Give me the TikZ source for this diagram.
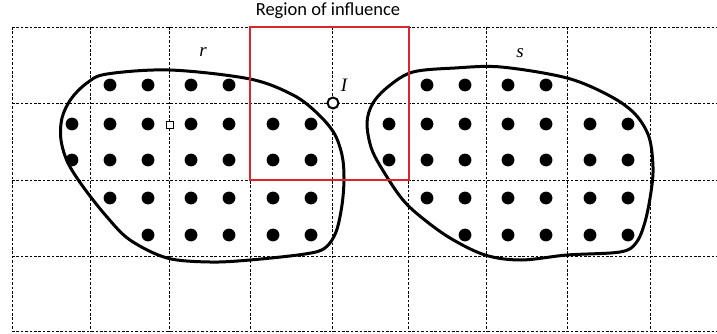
\documentclass[tikz,border=0pt]{standalone}
\usepackage{fontspec}
\newfontfamily\titlefont{Carlito}
\newfontfamily\mathlikefont{Liberation Serif}
\begin{document}
\begin{tikzpicture}[x=1pt,y=-1pt,
  gridline/.style={line width=0.8pt, dash pattern=on 2.6pt off 1.8pt, black},
  blob/.style={line width=3pt, black, line join=round},
  influence/.style={line width=2.8pt, color={rgb,255:red,218;green,38;blue,42}},
  dot/.style={black},
  setlabel/.style={font=\mathlikefont\itshape\fontsize{19}{19}\selectfont, inner sep=0pt}]
\useasboundingbox (0,0) rectangle (717,334);
\fill[white] (0,0) rectangle (717,334);

% dashed grid
\foreach \gx in {12,90,169,250,332,408,486,567,650}
  \draw[gridline] (\gx,27) -- (\gx,331);
\foreach \gy in {27,103,180,256,331}
  \draw[gridline] (12,\gy) -- (717,\gy);

% outline of region r
\draw[blob] plot[smooth cycle, tension=0.55] coordinates {
  (107,74) (170,70) (250,79) (293,95) (317,113) (334,133) (342,155)
  (344,178) (342,205) (336,232) (325,248) (305,254) (250,260) (210,262)
  (167,258) (130,240) (107,217) (84,188) (68,163) (61,140) (62,118)
  (71,99) (87,83)};

% outline of region s
\draw[blob] plot[smooth cycle, tension=0.55] coordinates {
  (413,72) (455,68) (501,67) (567,78) (610,96) (635,114) (649,137)
  (653,167) (651,192) (645,222) (636,243) (620,252) (567,255)
  (521,260) (485,255) (450,238) (421,217) (403,200) (387,177)
  (372,150) (367,123) (373,103) (389,86)};

% sample points of both regions
\foreach \sh in {0,317} {
  \begin{scope}[xshift=\sh]
    \foreach \xx in {110,148,191,229} \fill[dot] (\xx,85) circle (6.4);
    \foreach \xx in {72,110,148,191,229,273,311} \fill[dot] (\xx,124) circle (6.4);
    \foreach \xx in {72,110,148,191,229,273,311} \fill[dot] (\xx,160) circle (6.4);
    \foreach \xx in {110,148,191,229,273,311} \fill[dot] (\xx,198) circle (6.4);
    \foreach \xx in {148,191,229,273,311} \fill[dot] (\xx,235) circle (6.4);
  \end{scope}
}

% small hollow square on the grid line
\node[draw, line width=0.7pt, fill=white, minimum size=7pt, inner sep=0pt] (center) at (170,125) {};

% region of influence
\draw[influence] (250,27) rectangle (409,180);
\node[font=\titlefont\fontsize{18.5}{18.5}\selectfont, inner sep=0pt] (title) at (328,11) {Region of influence};

% point I
\node[draw, circle, line width=2pt, fill=white, minimum size=11pt, inner sep=0pt] (ipoint) at (333,103) {};
\node[setlabel] (ilabel) at (344,85) {I};

% region labels
\node[setlabel] (rlabel) at (203,52) {r};
\node[setlabel] (slabel) at (520,53) {s};
\end{tikzpicture}
\end{document}
